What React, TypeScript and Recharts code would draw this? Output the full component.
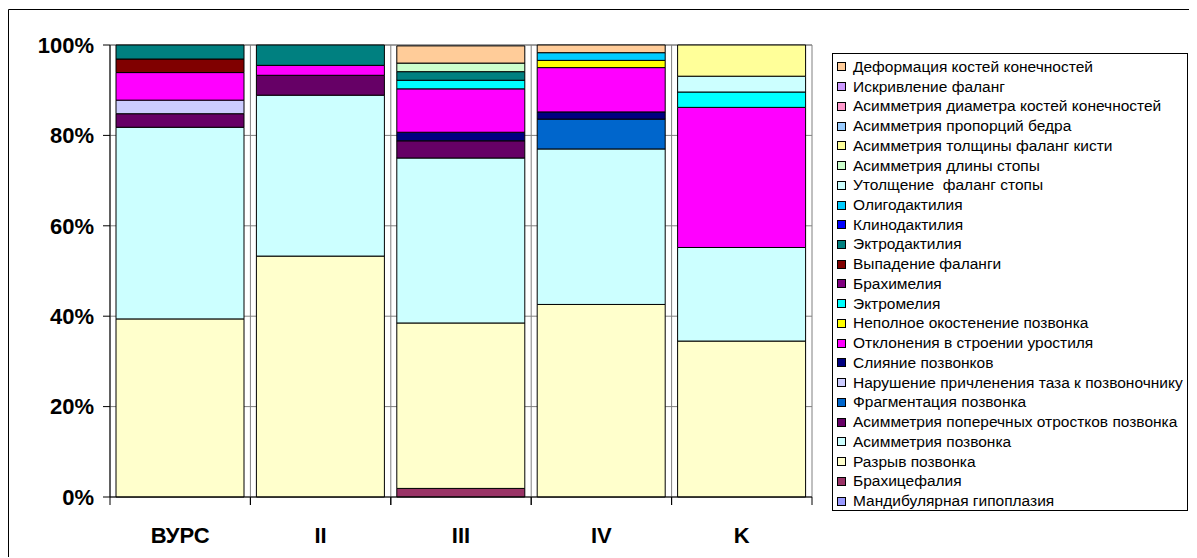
import { Bar, BarChart, CartesianGrid, XAxis, YAxis } from "recharts"

const categories = ["ВУРС", "II", "III", "IV", "K"]

// shares of each anomaly per group, % (stack order: bottom -> top)
const mandibular = [0, 0, 0, 0, 0]
const brachycephaly = [0, 0, 1.9, 0, 0]
const vertebraRupture = [39.4, 53.3, 36.6, 42.6, 34.5]
const vertebraAsym = [42.4, 35.6, 36.5, 34.4, 20.7]
const processAsym = [3.0, 4.4, 3.8, 0, 0]
const fragmentation = [0, 0, 0, 6.6, 0]
const pelvisAttach = [3.0, 0, 0, 0, 0]
const fusion = [0, 0, 1.9, 1.6, 0]
const urostyle = [6.1, 2.2, 9.6, 9.8, 31.0]
const ossification = [0, 0, 0, 1.6, 0]
const ectromelia = [0, 0, 1.9, 0, 3.4]
const brachymelia = [0, 0, 0, 0, 0]
const phalanxLoss = [3.0, 0, 0, 0, 0]
const ectrodactyly = [3.1, 4.5, 1.9, 0, 0]
const clinodactyly = [0, 0, 0, 0, 0]
const oligodactyly = [0, 0, 0, 1.7, 0]
const footThick = [0, 0, 0, 0, 3.5]
const footLength = [0, 0, 1.9, 0, 0]
const handThick = [0, 0, 0, 0, 6.9]
const femurAsym = [0, 0, 0, 0, 0]
const diameterAsym = [0, 0, 0, 0, 0]
const phalanxCurve = [0, 0, 0, 0, 0]
const limbDeform = [0, 0, 3.8, 1.7, 0]

const yTicks = [0, 20, 40, 60, 80, 100]

const series = [
  { key: "s1", name: "Мандибулярная гипоплазия", color: "#9999FF", values: mandibular },
  { key: "s2", name: "Брахицефалия", color: "#993366", values: brachycephaly },
  { key: "s3", name: "Разрыв позвонка", color: "#FFFFCC", values: vertebraRupture },
  { key: "s4", name: "Асимметрия позвонка", color: "#CCFFFF", values: vertebraAsym },
  { key: "s5", name: "Асимметрия поперечных отростков позвонка", color: "#660066", values: processAsym },
  { key: "s6", name: "Фрагментация позвонка", color: "#0066CC", values: fragmentation },
  { key: "s7", name: "Нарушение причленения таза к позвоночнику", color: "#CCCCFF", values: pelvisAttach },
  { key: "s8", name: "Слияние позвонков", color: "#000080", values: fusion },
  { key: "s9", name: "Отклонения в строении уростиля", color: "#FF00FF", values: urostyle },
  { key: "s10", name: "Неполное окостенение позвонка", color: "#FFFF00", values: ossification },
  { key: "s11", name: "Эктромелия", color: "#00FFFF", values: ectromelia },
  { key: "s12", name: "Брахимелия", color: "#800080", values: brachymelia },
  { key: "s13", name: "Выпадение фаланги", color: "#800000", values: phalanxLoss },
  { key: "s14", name: "Эктродактилия", color: "#008080", values: ectrodactyly },
  { key: "s15", name: "Клинодактилия", color: "#0000FF", values: clinodactyly },
  { key: "s16", name: "Олигодактилия", color: "#00CCFF", values: oligodactyly },
  { key: "s17", name: "Утолщение  фаланг стопы", color: "#CCFFFF", values: footThick },
  { key: "s18", name: "Асимметрия длины стопы", color: "#CCFFCC", values: footLength },
  { key: "s19", name: "Асимметрия толщины фаланг кисти", color: "#FFFF99", values: handThick },
  { key: "s20", name: "Асимметрия пропорций бедра", color: "#99CCFF", values: femurAsym },
  { key: "s21", name: "Асимметрия диаметра костей конечностей", color: "#FF99CC", values: diameterAsym },
  { key: "s22", name: "Искривление фаланг", color: "#CC99FF", values: phalanxCurve },
  { key: "s23", name: "Деформация костей конечностей", color: "#FFCC99", values: limbDeform },
]

const data = categories.map((name, i) => {
  const row: Record<string, string | number> = { name }
  series.forEach((s) => {
    row[s.key] = s.values[i]
  })
  return row
})

const FONT = "Arial, 'Liberation Sans', sans-serif"

function CategoryTick(props: any) {
  const { x, y, payload } = props
  const half = payload.offset || 0
  return (
    <g>
      <line x1={x - half} y1={y} x2={x - half} y2={y + 8} stroke="#000" />
      <line x1={x + half} y1={y} x2={x + half} y2={y + 8} stroke="#000" />
      <text
        x={x}
        y={y + 46}
        textAnchor="middle"
        fontSize={22}
        fontWeight="bold"
        fontFamily={FONT}
        fill="#000"
      >
        {payload.value}
      </text>
    </g>
  )
}

export default function App() {
  return (
    <div style={{ position: "relative", width: 1189, height: 550, fontFamily: FONT }}>
      {/* outer chart frame: only the left and top edges fall inside the window */}
      <svg
        width={1189}
        height={550}
        style={{ position: "absolute", left: 0, top: 0, pointerEvents: "none" }}
      >
        <polyline points="0.5,549 0.5,1.5 1189,1.5" fill="none" stroke="#000" strokeWidth={1} />
      </svg>
      <div style={{ position: "absolute", left: 1, top: 2 }}>
        <BarChart
          width={1188}
          height={548}
          data={data}
          margin={{ top: 35, right: 385, bottom: 0, left: 0 }}
          barCategoryGap={6}
        >
          <CartesianGrid
            stroke="#808080"
            verticalCoordinatesGenerator={({ offset }: any) =>
              categories.concat([""]).map((_, i) => offset.left + (i * offset.width) / categories.length)
            }
          />
          <XAxis
            dataKey="name"
            height={61}
            tickLine={false}
            tickSize={0}
            tickMargin={0}
            axisLine={{ stroke: "#000" }}
            tick={<CategoryTick />}
            interval={0}
          />
          <YAxis
            width={101}
            domain={[0, 100]}
            ticks={yTicks}
            tickSize={7}
            tickMargin={9}
            tickFormatter={(v) => `${v}%`}
            axisLine={{ stroke: "#000" }}
            tickLine={{ stroke: "#000" }}
            tick={{ fontSize: 22, fontWeight: "bold", fill: "#000", fontFamily: FONT }}
          />
          {series.map((s) => (
            <Bar
              key={s.key}
              dataKey={s.key}
              name={s.name}
              stackId="a"
              fill={s.color}
              stroke="#000"
              strokeWidth={1}
              isAnimationActive={false}
            />
          ))}
        </BarChart>
      </div>
      <div
        style={{
          position: "absolute",
          left: 824,
          top: 45,
          width: 356,
          height: 458,
          border: "1px solid #000",
          background: "#fff",
          paddingTop: 3,
          boxSizing: "border-box",
        }}
      >
        {series
          .slice()
          .reverse()
          .map((s) => (
            <div
              key={s.key}
              style={{
                display: "flex",
                alignItems: "center",
                height: 19.74,
                fontSize: 15.5,
                whiteSpace: "pre",
                color: "#000",
              }}
            >
              <span
                style={{
                  display: "inline-block",
                  width: 7,
                  height: 7,
                  border: "1px solid #000",
                  background: s.color,
                  marginLeft: 4,
                  marginRight: 7,
                  flexShrink: 0,
                }}
              />
              {s.name}
            </div>
          ))}
      </div>
    </div>
  )
}
